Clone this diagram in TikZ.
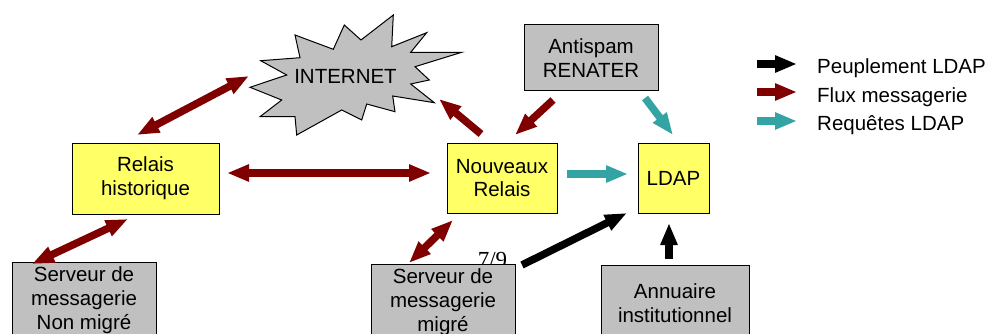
\documentclass[tikz,border=0pt]{standalone}
\usepackage{fontspec}
\setmainfont{Liberation Sans}
\newfontfamily\pgserif{Liberation Serif}
\usetikzlibrary{arrows.meta}
\definecolor{fluxc}{HTML}{800000}
\definecolor{reqc}{HTML}{33A3A3}
\definecolor{boxy}{HTML}{FFFF66}
\definecolor{boxg}{HTML}{C0C0C0}
\begin{document}
\begin{tikzpicture}[x=1pt,y=-1pt,
  txt/.style={font=\fontsize{20.5}{23.7}\selectfont},
  ybox/.style={txt, draw=black, line width=1pt, fill=boxy, inner sep=0pt, align=center},
  gbox/.style={ybox, fill=boxg},
  onetip/.style={-{Triangle[length=22pt,width=16pt]}},
  twotips/.style={{Triangle[length=22pt,width=16pt]}-{Triangle[length=22pt,width=16pt]}},
  fluxar/.style={draw=fluxc, line width=7.5pt},
  reqar/.style={draw=reqc, line width=7.5pt},
  peupar/.style={draw=black, line width=7.5pt}
]
\path[use as bounding box, clip] (0,0) rectangle (987,334);

% page number (partly hidden behind the box)
\node[font=\pgserif\fontsize{23}{26}\selectfont, anchor=base, inner sep=0pt] (pg) at (492.5,267) {7/9};

% INTERNET starburst
\draw[line width=1pt, fill=boxg, line join=miter]
  (260.7,60.7) -- (300,57.7) -- (295,35) -- (333.3,49.3) -- (344.3,25) -- (361,40)
  -- (393.3,15) -- (391.7,46.7) -- (426.7,32.7) -- (410.7,52.3) -- (461.7,52.3)
  -- (415,66.7) -- (429.3,80) -- (410.7,84) -- (434.3,102.7) -- (392.7,96)
  -- (395,111.7) -- (366.7,104) -- (361.7,120) -- (341.7,110) -- (296.7,135)
  -- (295,116.7) -- (260,116.7) -- (281.7,100) -- (250,87.3) -- (286.7,75) -- cycle;
\node[txt, inner sep=0pt] (inet) at (345.5,76.7) {INTERNET};

% boxes
\node[ybox, minimum width=147pt, minimum height=71pt] (rh) at (145.5,178.5) {Relais\\historique};
\node[ybox, minimum width=110pt, minimum height=70pt] (nr) at (502,178) {Nouveaux\\Relais};
\node[ybox, minimum width=71pt, minimum height=70pt] (ldap) at (673.5,178) {LDAP};
\node[gbox, minimum width=134pt, minimum height=66pt] (anti) at (591,58) {Antispam\\RENATER};
\node[gbox, minimum width=144pt, minimum height=76pt] (snm) at (84,300) {Serveur de\\messagerie\\Non migré};
\node[gbox, minimum width=144pt, minimum height=76pt] (sm) at (443,302) {Serveur de\\messagerie\\migré};
\node[gbox, minimum width=148pt, minimum height=76pt] (ann) at (675,303) {Annuaire\\institutionnel};

% flux messagerie
\draw[fluxar, twotips] ([shift={(-8.5,-43.5)}]rh.center) -- ([shift={(-96.5,-0.7)}]inet.center);
\draw[fluxar, twotips] ([shift={(81.5,-5.5)}]rh.center) -- ([shift={(-71,-5)}]nr.center);
\draw[fluxar, twotips] ([shift={(-17.5,40.5)}]rh.center) -- ([shift={(-52,-36)}]snm.center);
\draw[fluxar, onetip] ([shift={(-21,-44)}]nr.center) -- ([shift={(93.5,22.3)}]inet.center);
\draw[fluxar, onetip] ([shift={(-38,42)}]anti.center) -- ([shift={(13,-43)}]nr.center);
\draw[fluxar, twotips] ([shift={(-49,42)}]nr.center) -- ([shift={(-34,-39)}]sm.center);

% requetes LDAP
\draw[reqar, onetip] ([shift={(54,40)}]anti.center) -- ([shift={(-0.5,-43)}]ldap.center);
\draw[reqar, onetip] ([shift={(65,-4)}]nr.center) -- ([shift={(-45.5,-4)}]ldap.center);

% peuplement LDAP
\draw[peupar, onetip] ([shift={(79,-37)}]sm.center) -- ([shift={(-46.5,35)}]ldap.center);
\draw[peupar, onetip] ([shift={(-6,-44)}]ann.center) -- ([shift={(-4.5,45)}]ldap.center);

% legend
\coordinate (l1s) at (757,64); \coordinate (l1e) at (797,64);
\coordinate (l2s) at (757,92); \coordinate (l2e) at (797,92);
\coordinate (l3s) at (757,121); \coordinate (l3e) at (797,121);
\draw[peupar, onetip] (l1s) -- (l1e);
\draw[fluxar, onetip] (l2s) -- (l2e);
\draw[reqar, onetip] (l3s) -- (l3e);
\node[txt, anchor=base west, inner sep=0pt] (lg1) at (817,74) {Peuplement LDAP};
\node[txt, anchor=base west, inner sep=0pt] (lg2) at (817,102.3) {Flux messagerie};
\node[txt, anchor=base west, inner sep=0pt] (lg3) at (817,130) {Requêtes LDAP};
\end{tikzpicture}
\end{document}
